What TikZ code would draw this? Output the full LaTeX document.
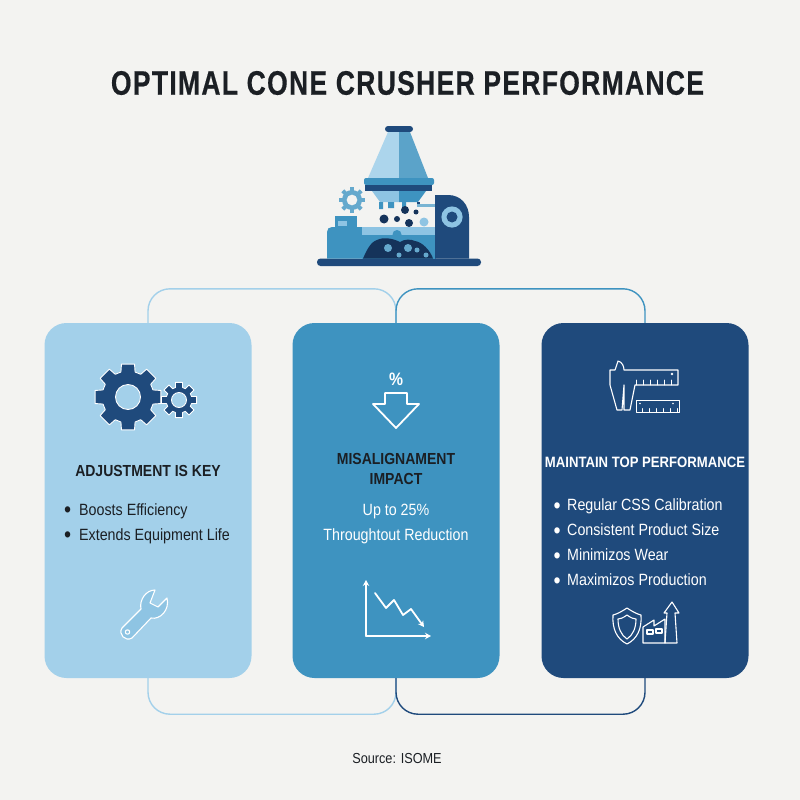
\documentclass[tikz,border=0pt]{standalone}
\usepackage{fontspec}
\setmainfont[FakeStretch=0.875]{Liberation Sans}
\newfontfamily\titlefont[FakeStretch=0.78,LetterSpace=3.8,FakeBold=0.4]{Liberation Sans}
\usetikzlibrary{arrows.meta,calc}
\definecolor{paper}{HTML}{F3F3F1}
\definecolor{lightblue}{HTML}{A3D0EA}
\definecolor{midblue}{HTML}{3E93C0}
\definecolor{darkblue}{HTML}{1F4A7C}
\definecolor{inkblue}{HTML}{15335A}
\definecolor{paleblue}{HTML}{8EC4E3}
\definecolor{inktext}{HTML}{1B1F24}
\tikzset{
  card/.style={rounded corners=22pt,minimum width=207pt,minimum height=355pt,inner sep=0pt},
  heading/.style={font=\fontsize{16}{20}\selectfont\bfseries,align=center,inner sep=0pt},
  itemlist/.style={font=\fontsize{16.3}{25}\selectfont,align=left,inner sep=0pt},
  lineart/.style={draw=white,line width=1.8pt,line join=round,line cap=round},
  thinart/.style={draw=white,line width=1.1pt,line join=round,line cap=round},
  link/.style={line width=1.4pt,rounded corners=22pt},
}
\newcommand{\bul}[1]{\makebox[#1][l]{\raisebox{-2.6pt}{\fontsize{23}{25}\selectfont\textbullet}}}
% one gear: centre, outer radius, root radius, hole radius, teeth
\newcommand{\gearwheel}[5]{%
  \fill[darkblue,draw=white,line width=0.9pt,line join=round,even odd rule]
    \foreach \t [evaluate=\t as \a using \t*360/#5] in {1,...,#5} {
      {[shift={#1}] \ifnum\t=1 (\a-90/#5-36/#5:#3pt) \else -- (\a-90/#5-36/#5:#3pt) \fi
      -- (\a-90/#5:#2pt) -- (\a+90/#5:#2pt) -- (\a+90/#5+36/#5:#3pt)}
    } -- cycle
    #1 circle (#4pt);
}
\begin{document}
\begin{tikzpicture}[x=1pt,y=-1pt]
\useasboundingbox (0,0) rectangle (800,800);
\fill[paper] (0,0) rectangle (800,800);
\node[font=\fontsize{34}{40}\selectfont\titlefont\bfseries,text=inktext,inner sep=0pt] (title) at (407.5,83) {OPTIMAL CONE CRUSHER PERFORMANCE};

% the machine
\fill[darkblue,rounded corners=3.5pt] (317,258.5) rectangle (481,266);
\fill[darkblue,rounded corners=3pt] (385,126) rectangle (413,132);
\fill[lightblue!90!white] (388,132) -- (399,132) -- (399,178) -- (368,178) -- cycle;
\fill[midblue!85!white] (399,132) -- (410,132) -- (428,178) -- (399,178) -- cycle;
\fill[midblue,rounded corners=2pt] (364,178) rectangle (434,185);
\fill[darkblue] (365,185) rectangle (432,191);
\fill[paleblue] (372,191) -- (399,191) -- (399,202) -- (380,202) -- cycle;
\fill[midblue] (399,191) -- (426,191) -- (418,202) -- (399,202) -- cycle;
\fill[midblue] (379,202) rectangle (383,209) (388,202) rectangle (394,208) (402,202) rectangle (406,209);
\fill[darkblue] (417,202) rectangle (420,206);
\fill[midblue!70!white] (417,204) rectangle (435,206.5);
\fill[midblue] (327,258.5) -- (327,232) .. controls (327,229) and (329,227) .. (332,227) -- (362,227) -- (362,258.5) -- cycle;
\fill[midblue] (335,216) rectangle (357,227);
\fill[paleblue] (338,221) rectangle (347,226);
\fill[paleblue] (362,227) rectangle (436,235);
\fill[midblue] (362,235) rectangle (436,258.5);
\fill[paleblue] (424,222) circle (4.5pt);
\fill[midblue] (397,234.5) circle (4.5pt);
\fill[inkblue] (363,258.5) .. controls (366,252) and (370,242) .. (377,240) .. controls (383,237) and (392,238) .. (400,242) .. controls (404,239) and (411,239) .. (415,241) .. controls (422,242) and (430,250) .. (433,258.5) -- cycle;
\fill[midblue!80!white] (388,248) circle (4pt) (408,248) circle (4pt) (417,250) circle (2.5pt) (399,255) circle (2.5pt) (426,255) circle (2.5pt);
\fill[inkblue] (384,219) circle (4.5pt) (405,210) circle (4pt) (416,212) circle (2.5pt) (397,219) circle (3pt) (409,223) circle (4pt);
\fill[darkblue] (435,258.5) -- (435,195) -- (448,195) .. controls (461,195) and (469,205) .. (469,217) -- (469,258.5) -- cycle;
\fill[paleblue] (452,217) circle (10.6pt);
\fill[darkblue] (452,217) circle (5.5pt);
\fill[midblue!80!white,even odd rule] (352,200) circle (10pt) (352,200) circle (5.5pt);
\foreach \a in {0,45,...,315} \fill[midblue!80!white,rotate around={\a:(352,200)}] (350,187) rectangle (354,192);

% the three cards
\node[card,fill=lightblue] (cardleft) at (148,500.5) {};
\node[card,fill=midblue] (cardmid) at (396,500.5) {};
\node[card,fill=darkblue] (cardright) at (645,500.5) {};

% connectors
\draw[link,draw=lightblue] (cardleft.north) -- ++(0,-34) -| (cardmid.north);
\draw[link,draw=midblue] (cardmid.north) -- ++(0,-34) -| (cardright.north);
\draw[link,draw=lightblue] (cardleft.south) -- ++(0,36) -| (cardmid.south);
\draw[link,draw=darkblue] (cardmid.south) -- ++(0,36) -| (cardright.south);

% gears
\gearwheel{(128,397)}{33.5}{26}{12.5}{8}
\gearwheel{(179,400)}{18}{13}{7.5}{8}

% left card
\node[heading,text=inktext] (headleft) at (148,471) {ADJUSTMENT IS KEY};
\node[itemlist,text=inktext,anchor=north west] (listleft) at (64,503) {\bul{15pt}Boosts Efficiency\\ \bul{15pt}Extends Equipment Life};
% wrench
\draw[thinart,fill=paleblue]
  (155,590) .. controls (146,590) and (139,600) .. (141,609) -- (122,628) .. controls (118,634) and (125,642) .. (132,638) -- (151,618) .. controls (160,620) and (170,610) .. (167,598) -- (158,607) -- (150,603) -- cycle;
\draw[thinart] (127.5,632) circle (2.2pt);

% middle card
\node[font=\fontsize{18}{20}\selectfont\bfseries,text=white,inner sep=0pt] (percent) at (396,379) {\%};
\draw[lineart] (385,393) -- (407,393) -- (407,404) -- (419,404) -- (396,428) -- (373,404) -- (385,404) -- cycle;
\node[heading,text=inktext] (headmid) at (396,469) {MISALIGNAMENT\\IMPACT};
\node[font=\fontsize{16.3}{25}\selectfont,text=white,align=center,inner sep=0pt] (textmid) at (396,524) {Up to 25\%\\Throughtout Reduction};
\draw[lineart,-{Stealth[length=6pt,width=6.5pt]}] (366,636) -- (366,580);
\draw[lineart,-{Stealth[length=6pt,width=6.5pt]}] (366,636) -- (431,636);
\draw[lineart,-{Stealth[length=6pt,width=6.5pt]}] (375,593) -- (386,608) -- (394,600) -- (403,615) -- (411,609) -- (424,627);

% right card
\node[heading,text=white,font=\fontsize{15}{20}\selectfont\bfseries] (headright) at (645,462) {MAINTAIN TOP PERFORMANCE};
\node[itemlist,text=white,anchor=north west] (listright) at (553.5,498.5) {\bul{13.5pt}Regular CSS Calibration\\ \bul{13.5pt}Consistent Product Size\\ \bul{13.5pt}Minimizos Wear\\ \bul{13.5pt}Maximizos Production};
% caliper
\draw[thinart] (610,370) -- (615,370) -- (618,361) .. controls (622,362) and (624,366) .. (624,370) -- (678,370) -- (678,385) -- (635,385) -- (630,410) -- (624,410) -- (624,385) -- (622,410) -- (617,410) -- (610,385) -- cycle;
\draw[thinart,line width=1pt] (636,400) rectangle (679,412);
\foreach \x in {636,643,...,671} \draw[thinart,line width=0.8pt] (\x,385) -- (\x,380);
\foreach \x in {642,649,...,677} \draw[thinart,line width=0.8pt] (\x,412) -- (\x,408.5);
\fill[white] (672,374) circle (1.3pt) (640,403.5) circle (0.9pt) (673,403.5) circle (0.9pt);
% shield
\draw[thinart] (627,608) .. controls (633,612) and (637,614) .. (641,615) .. controls (642,629) and (637,639) .. (627,644) .. controls (617,639) and (612,629) .. (613,615) .. controls (617,614) and (621,612) .. (627,608) -- cycle;
\draw[thinart] (627,615) .. controls (631,618) and (634,619) .. (636,619) .. controls (636,628) and (633,635) .. (627,639) .. controls (621,635) and (618,628) .. (618,619) .. controls (620,619) and (623,618) .. (627,615) -- cycle;
% factory
\draw[thinart] (643,643) -- (643,627) -- (654,620) -- (654,626) -- (665,619) -- (665,643) -- cycle;
\draw[thinart] (665,643) -- (667,613) -- (664,613) -- (672,602) -- (679,613) -- (675,613) -- (677,643) -- (665,643);
\draw[thinart] (647,630) rectangle (653,634) (656,629) rectangle (662,633);

\node[font=\fontsize{14.5}{16}\selectfont,text=inktext,inner sep=0pt] (source) at (397,758) {Source: ISOME};
\end{tikzpicture}
\end{document}
